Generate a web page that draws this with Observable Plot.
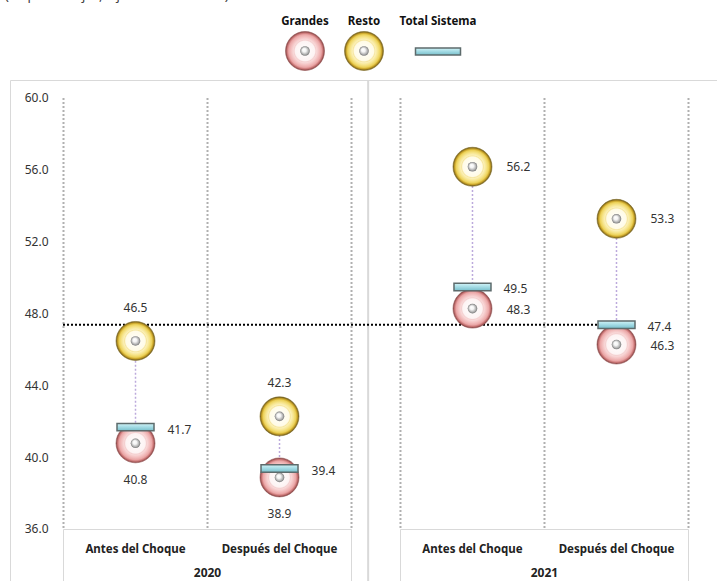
<!DOCTYPE html>
<html>
<head>
<meta charset="utf-8">
<script src="https://cdn.jsdelivr.net/npm/d3@7"></script>
<script src="https://cdn.jsdelivr.net/npm/@observablehq/plot@0.6"></script>
<style>
  body { margin: 0; background: #fff; }
  #wrap { position: relative; width: 717px; height: 581px; overflow: hidden; font-family: "Noto Sans", sans-serif; }
  #title { position: absolute; left: 5px; top: -14px; font-size: 13px; color: #404040; white-space: nowrap; }
  #legend { position: absolute; left: 0; top: 0; }
  #chart { position: absolute; left: 0; top: 80px; }
</style>
</head>
<body>
<div id="wrap">
  <div id="title">(En porcentajes, a junio de cada año)</div>
  <svg id="legend" width="717" height="80"></svg>
  <div id="chart"></div>
</div>
<script>
// Ratios by bank group, before and after the shock, for each year
const years = ["2020", "2021"];
const phases = ["Antes del Choque", "Después del Choque"];
const grandes = [40.8, 38.9, 48.3, 46.3];
const resto = [46.5, 42.3, 56.2, 53.3];
const totalSistema = [41.7, 39.4, 49.5, 47.4];
const yTicks = [36, 40, 44, 48, 52, 56, 60];
const seriesNames = ["Grandes", "Resto", "Total Sistema"];

const FONT = '"Noto Sans", sans-serif';
const fmt = d3.format(".1f");
const gap = 0.34; // spacing between the two year panels, in category widths

const rows = years.flatMap((year, i) => phases.map((phase, j) => {
  const k = i * phases.length + j;
  return {
    year, phase, first: i === 0,
    pos: i * (phases.length + gap) + j + 0.5,
    grandes: grandes[k], resto: resto[k], total: totalSistema[k]
  };
}));
const panels = years.map((year, i) => {
  const start = i * (phases.length + gap);
  return {year, start, end: start + phases.length, center: start + phases.length / 2};
});
const bounds = panels.flatMap(p => d3.range(phases.length + 1).map(j => p.start + j));
const xMax = panels[panels.length - 1].end;
const refRow = rows[rows.length - 1];

// ---- shared gradients (ring markers, centre bead, bar) ----
const legend = d3.select("#legend");
const defs = legend.append("defs");
function radial(id, stops, fx = "50%", fy = "50%") {
  const g = defs.append("radialGradient").attr("id", id)
    .attr("cx", "50%").attr("cy", "50%").attr("r", "50%").attr("fx", fx).attr("fy", fy);
  stops.forEach(([o, c]) => g.append("stop").attr("offset", o).attr("stop-color", c));
}
radial("ringG", [["0%", "#ffffff"], ["50%", "#fdf3f3"], ["56%", "#f4d0d0"], ["60%", "#f8d8d8"], ["72%", "#f3c0c0"], ["84%", "#eaa6a6"], ["92%", "#c87474"], ["100%", "#7a3c3c"]]);
radial("ringR", [["0%", "#ffffff"], ["50%", "#fffbe6"], ["56%", "#f6e6a0"], ["60%", "#fbf0b8"], ["72%", "#f6e48a"], ["84%", "#ecd158"], ["92%", "#c49e24"], ["100%", "#5c4c1e"]]);
radial("bead", [["0%", "#ffffff"], ["40%", "#f4f4f4"], ["78%", "#b0b0b0"], ["100%", "#767676"]], "38%", "35%");
const lg = defs.append("linearGradient").attr("id", "barFill").attr("x1", 0).attr("y1", 0).attr("x2", 0).attr("y2", 1);
[["0%", "#d2f3f7"], ["45%", "#a6dde6"], ["100%", "#78bfcb"]].forEach(([o, c]) => lg.append("stop").attr("offset", o).attr("stop-color", c));

// flat bar symbol for the system total
const barSymbol = {
  draw(context, size) {
    const r = Math.sqrt(size / Math.PI);
    const w = r, h = r * 0.2;
    context.moveTo(-w, -h);
    context.lineTo(w, -h);
    context.lineTo(w, h);
    context.lineTo(-w, h);
    context.closePath();
  }
};

// ---- legend ----
const legendItems = [
  {name: seriesNames[0], x: 305, kind: "ring", fill: "url(#ringG)", edge: "#9a5656"},
  {name: seriesNames[1], x: 364, kind: "ring", fill: "url(#ringR)", edge: "#8a7426"},
  {name: seriesNames[2], x: 438, kind: "bar"}
];
legendItems.forEach(it => {
  legend.append("text").attr("x", it.x).attr("y", 25).attr("text-anchor", "middle")
    .attr("font-family", FONT).attr("font-size", 11.5).attr("font-weight", "bold").attr("fill", "#111")
    .text(it.name);
  if (it.kind === "ring") {
    legend.append("circle").attr("cx", it.x).attr("cy", 51).attr("r", 19.5).attr("fill", it.fill)
      .attr("stroke", it.edge).attr("stroke-width", 1).attr("stroke-opacity", 0.6);
    legend.append("circle").attr("cx", it.x).attr("cy", 51).attr("r", 4.8).attr("fill", "url(#bead)");
  } else {
    legend.append("rect").attr("x", it.x - 22.5).attr("y", 48).attr("width", 45).attr("height", 7)
      .attr("fill", "url(#barFill)").attr("stroke", "#5d6b6c").attr("stroke-width", 1.5);
  }
});

// ---- value labels ----
const labelStyle = {fill: "#333", fontSize: 12};
const first = rows.filter(d => d.first);
const rest = rows.filter(d => !d.first);

const chart = Plot.plot({
  width: 717,
  height: 501,
  marginTop: 18,
  marginBottom: 52,
  marginLeft: 63,
  marginRight: 29,
  x: {domain: [0, xMax], axis: null},
  y: {domain: [36, 60], ticks: yTicks, tickFormat: fmt, tickSize: 0, tickPadding: 15, label: null},
  style: {fontFamily: FONT, fontSize: "12px", color: "#333", background: "transparent", overflow: "visible"},
  marks: [
    Plot.ruleX(bounds, {stroke: "#b0b0b0", strokeWidth: 2, strokeDasharray: "2,2"}),
    Plot.ruleY([refRow], {y: "total", x1: 0, x2: "pos", stroke: "#000", strokeWidth: 2, strokeDasharray: "2,2"}),
    Plot.ruleX(rows, {x: "pos", y1: "grandes", y2: "resto", stroke: "#bcaadc", strokeWidth: 1.5, strokeDasharray: "2,2"}),
    Plot.dot(rows, {x: "pos", y: "grandes", r: 19.5, fill: "url(#ringG)", stroke: "#9a5656", strokeWidth: 1, strokeOpacity: 0.6}),
    Plot.dot(rows, {x: "pos", y: "grandes", r: 4.8, fill: "url(#bead)"}),
    Plot.dot(rows, {x: "pos", y: "resto", r: 19.5, fill: "url(#ringR)", stroke: "#8a7426", strokeWidth: 1, strokeOpacity: 0.6}),
    Plot.dot(rows, {x: "pos", y: "resto", r: 4.8, fill: "url(#bead)"}),
    Plot.dot(rows, {x: "pos", y: "total", r: 18.5, symbol: barSymbol, fill: "url(#barFill)", stroke: "#5d6b6c", strokeWidth: 1.5}),
    // first year: group labels above / below, total to the right
    Plot.text(first, {x: "pos", y: "resto", text: d => fmt(d.resto), dy: -33, ...labelStyle}),
    Plot.text(first, {x: "pos", y: "grandes", text: d => fmt(d.grandes), dy: 37, ...labelStyle}),
    Plot.text(first, {x: "pos", y: "total", text: d => fmt(d.total), dx: 32, dy: 3, textAnchor: "start", ...labelStyle}),
    // second year: every label to the right of its marker
    Plot.text(rest, {x: "pos", y: "resto", text: d => fmt(d.resto), dx: 34, dy: 0, textAnchor: "start", ...labelStyle}),
    Plot.text(rest, {x: "pos", y: "grandes", text: d => fmt(d.grandes), dx: 34, dy: 1.5, textAnchor: "start", ...labelStyle}),
    Plot.text(rest, {x: "pos", y: "total", text: d => fmt(d.total), dx: 31, dy: 2, textAnchor: "start", ...labelStyle}),
    // category and year labels under each panel
    Plot.text(rows, {x: "pos", text: "phase", frameAnchor: "bottom", lineAnchor: "middle", dy: 20, fontWeight: "bold", fontSize: 11.5, fill: "#222"}),
    Plot.text(panels, {x: "center", text: "year", frameAnchor: "bottom", lineAnchor: "middle", dy: 44, fontWeight: "bold", fontSize: 12, fill: "#222"})
  ]
});

// panel frames and category boxes, placed with the chart's own scales
const sx = chart.scale("x"), sy = chart.scale("y");
const H = 501, W = 717;
const deco = d3.select(chart).insert("g", ":first-child")
  .attr("fill", "none").attr("stroke", "#d9d9d9");
deco.append("path").attr("d", `M10.5,${H}V0.5H${W}`);
const sep = sx.apply(panels[0].end + gap * 0.35);
deco.append("line").attr("x1", sep).attr("x2", sep).attr("y1", 0).attr("y2", H).attr("stroke-width", 2);
const y0 = sy.apply(36);
panels.forEach(p => {
  const a = Math.round(sx.apply(p.start)) + 0.5, b = Math.round(sx.apply(p.end)) + 0.5;
  deco.append("path").attr("d", `M${a},${H}V${y0 + 0.5}H${b}V${H}`);
});

document.getElementById("chart").append(chart);
</script>
</body>
</html>
